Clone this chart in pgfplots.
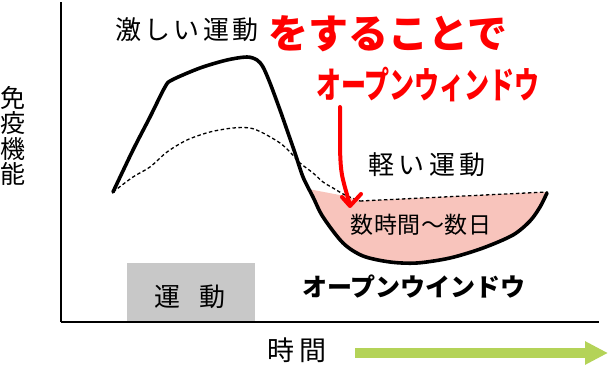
\documentclass[border=0pt]{standalone}
\usepackage{fontspec}
\usepackage{pgfplots}
\usepackage{pgfplotstable}
\pgfplotsset{compat=1.18}
\usepgfplotslibrary{fillbetween}
\usetikzlibrary{arrows.meta}
\newfontfamily\jp{Noto Sans CJK JP}
\newfontfamily\jpA[LetterSpace=12]{Noto Sans CJK JP}
\newfontfamily\jpAA[LetterSpace=16]{Noto Sans CJK JP}
\newfontfamily\jpB[LetterSpace=2]{Noto Sans CJK JP}
\newfontfamily\jpC[LetterSpace=21]{Noto Sans CJK JP}
\definecolor{pinkfill}{RGB}{248,196,188}
\definecolor{boxgray}{RGB}{200,200,200}
\definecolor{arrowgreen}{RGB}{180,211,88}
\pgfplotstableread{
x y
113 177
133 219
150 252
165 282
172 289
200 301
227 309
247 312
257 309
263 302
270 286
280 259
287 239
295 216
303 192
313 172
323 152
343 126
363 113
390 107
417 106
450 111
483 121
513 134
530 148
540 162
547 176
}\heavy
\pgfplotstableread{
x y
113 177
133 192
150 202
167 217
187 229
210 237
233 241
250 241
263 236
280 226
290 217
300 206
313 196
323 187
333 181
345 174
360 168
}\light
\pgfplotstableread{
x y
360 168
547 177
}\lightflat
\pgfplotstableread{
x y
308 180
345 173
360 168
547 177
}\pinktop
\begin{document}
\begin{tikzpicture}
\begin{axis}[at={(61pt,47pt)}, anchor=south west, scale only axis,
  width=538pt, height=320pt, xmin=61, xmax=599, ymin=47, ymax=367,
  axis lines=left, axis line style={-, line width=2.2pt, black},
  xtick=\empty, ytick=\empty, clip=false, axis on top]
% gray box
\addplot[fill=boxgray, draw=none] coordinates {(127,47) (255,47) (255,106) (127,106)} -- cycle;
% named paths
\addplot[draw=none, smooth, name path=hv] table {\heavy};
\addplot[draw=none, name path=tp] table {\pinktop};
\addplot[pinkfill, draw=none] fill between[of=hv and tp, soft clip={domain=308:547}];
% curves
\addplot[black, line width=1.3pt, dash pattern=on 3.5pt off 2.5pt, smooth] table {\light};
\addplot[black, line width=1.3pt, dash pattern=on 3.5pt off 2.5pt] table {\lightflat};
\addplot[black, line width=3.6pt, smooth, line cap=round, line join=round] table {\heavy};
% texts
\node[inner sep=0, font={\jpA\fontsize{26}{28}\selectfont}] at (axis cs:187,339) {激しい運動};
\node[inner sep=0, font={\jpAA\fontsize{26}{28}\selectfont}] at (axis cs:427,204) {軽い運動};
\node[inner sep=0, font={\jpB\fontsize{23}{25}\selectfont}] at (axis cs:421,144) {数時間〜数日};
\node[inner sep=0, font={\jp\bfseries\fontsize{25}{27}\selectfont}] at (axis cs:414,82) {オープンウインドウ};
\node[inner sep=0, font={\jpC\fontsize{27}{29}\selectfont}] at (axis cs:297,19) {時間};
\node[inner sep=0, font={\jp\fontsize{26}{28}\selectfont}] at (axis cs:190,72) {運\hspace{19.5pt}動};
\node[inner sep=0, align=center, font={\jp\fontsize{25}{25.5}\selectfont}] at (axis cs:13,233) {免\\疫\\機\\能};
% red handwritten annotation
\node[inner sep=0, text=red, font={\jp\bfseries\fontsize{40}{42}\selectfont}] at (axis cs:388,335) {をすることで};
\node[inner sep=0, text=red, yscale=1.45, font={\jp\bfseries\fontsize{25}{27}\selectfont}] at (axis cs:428,284) {オープンウィンドウ};
\draw[red, line width=4pt, line cap=round, line join=round] (axis cs:340,262) -- (axis cs:340,219) .. controls (axis cs:341,195) .. (axis cs:350,164);
\draw[red, line width=4pt, line cap=round, line join=round] (axis cs:342,172) -- (axis cs:350,163) -- (axis cs:361,175);
% green arrow
\draw[arrowgreen, line width=10pt, -{Triangle[length=23pt, width=22pt]}] (axis cs:355,16) -- (axis cs:608,16);
\end{axis}
\pgfresetboundingbox
\path (0,0) rectangle (609pt,369pt);
\end{tikzpicture}
\end{document}
